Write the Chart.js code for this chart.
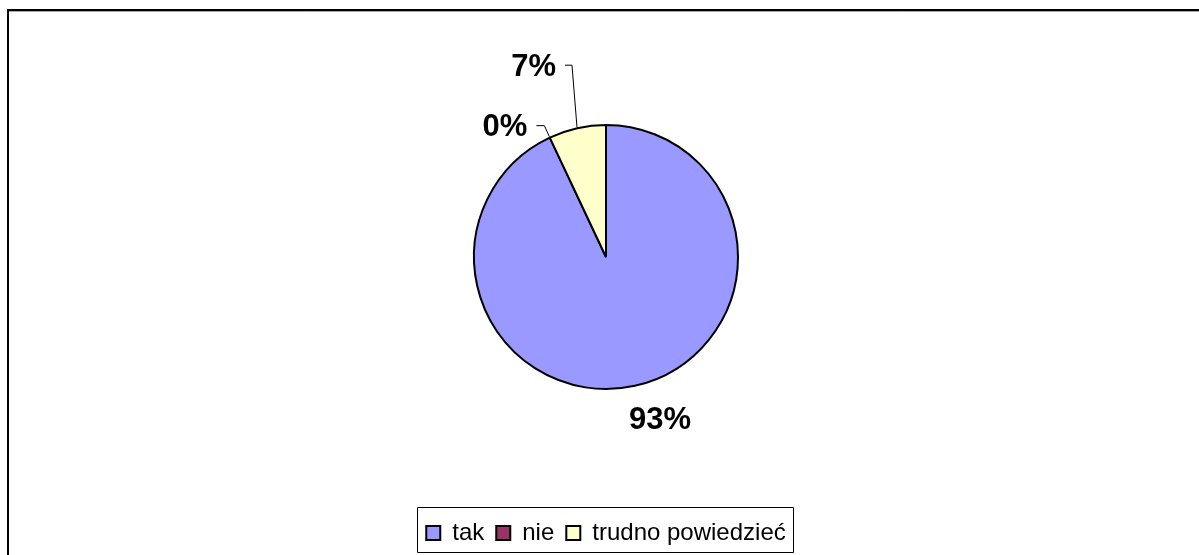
<!DOCTYPE html>
<html>
<head>
<meta charset="utf-8">
<script src="https://cdn.jsdelivr.net/npm/chart.js@4"></script>
<style>
  body { margin: 0; background: #fff; }
  #wrap { width: 1199px; height: 555px; position: relative; }
</style>
</head>
<body>
<div id="wrap"><canvas id="myChart"></canvas></div>
<script>
const categories = ['tak', 'nie', 'trudno powiedzieć'];
const values = [93, 0, 7];
const sliceColors = ['#9999FF', '#993366', '#FFFFCC'];

// where each percent label sits relative to the slice edge
const labelStyle = [
  { dx: 25, dy: 34 },
  { leader: [-5, -11, -8] },
  { leader: [-5, -62, -7] }
];

const framePlugin = {
  id: 'frame',
  afterDraw (chart) {
    const ctx = chart.ctx;
    ctx.save();
    ctx.strokeStyle = '#000';
    ctx.lineWidth = 2;
    ctx.beginPath();
    ctx.moveTo(8, chart.height);
    ctx.lineTo(8, 10);
    ctx.lineTo(chart.width, 10);
    ctx.stroke();
    ctx.strokeStyle = '#aaa';
    ctx.lineWidth = 1;
    ctx.beginPath();
    ctx.moveTo(9, 11.5);
    ctx.lineTo(chart.width, 11.5);
    ctx.stroke();

    // box round the legend
    const boxes = chart.legend.legendHitBoxes;
    if (boxes && boxes.length) {
      const left = Math.min(...boxes.map(b => b.left)) - 9;
      const right = Math.max(...boxes.map(b => b.left + b.width)) + 8;
      ctx.strokeStyle = '#000';
      ctx.beginPath();
      ctx.rect(Math.round(left) + 0.5, 507.5, Math.round(right - left), 45);
      ctx.stroke();
    }
    ctx.restore();
  }
};

const pctLabels = {
  id: 'pctLabels',
  afterDatasetsDraw (chart) {
    const ctx = chart.ctx;
    const meta = chart.getDatasetMeta(0);
    const total = values.reduce((a, b) => a + b, 0);
    ctx.save();
    ctx.font = 'bold 31px "Liberation Sans", Arial, sans-serif';
    ctx.fillStyle = '#000';
    ctx.textBaseline = 'middle';
    meta.data.forEach((arc, i) => {
      const p = arc.getProps(['x', 'y', 'startAngle', 'endAngle', 'outerRadius'], true);
      const mid = (p.startAngle + p.endAngle) / 2;
      const r = p.outerRadius + 1;
      const ex = p.x + Math.cos(mid) * r;
      const ey = p.y + Math.sin(mid) * r;
      const text = Math.round(values[i] / total * 100) + '%';
      const st = labelStyle[i];
      if (st.leader) {
        const [lx, ly, hx] = st.leader;
        ctx.strokeStyle = '#000';
        ctx.lineWidth = 1;
        ctx.beginPath();
        ctx.moveTo(ex, ey);
        ctx.lineTo(ex + lx, ey + ly);
        ctx.lineTo(ex + lx + hx, ey + ly);
        ctx.stroke();
        ctx.textAlign = 'right';
        ctx.fillText(text, ex + lx + hx - 9, ey + ly + 2);
      } else {
        ctx.textAlign = 'center';
        ctx.fillText(text, ex + st.dx, ey + st.dy);
      }
    });
    ctx.restore();
  }
};

new Chart(document.getElementById('myChart'), {
  type: 'pie',
  data: {
    labels: categories,
    datasets: [{
      data: values,
      backgroundColor: sliceColors,
      borderColor: '#000',
      borderWidth: 2,
      radius: 132
    }]
  },
  options: {
    responsive: true,
    maintainAspectRatio: false,
    animation: false,
    layout: { padding: { left: 13, right: 0, top: 5, bottom: 0 } },
    plugins: {
      tooltip: { enabled: false },
      legend: {
        position: 'bottom',
        labels: {
          boxWidth: 14,
          boxHeight: 14,
          padding: 12,
          color: '#000',
          font: { size: 24, family: '"Liberation Sans", Arial, sans-serif' }
        }
      }
    }
  },
  plugins: [framePlugin, pctLabels]
});
</script>
</body>
</html>
